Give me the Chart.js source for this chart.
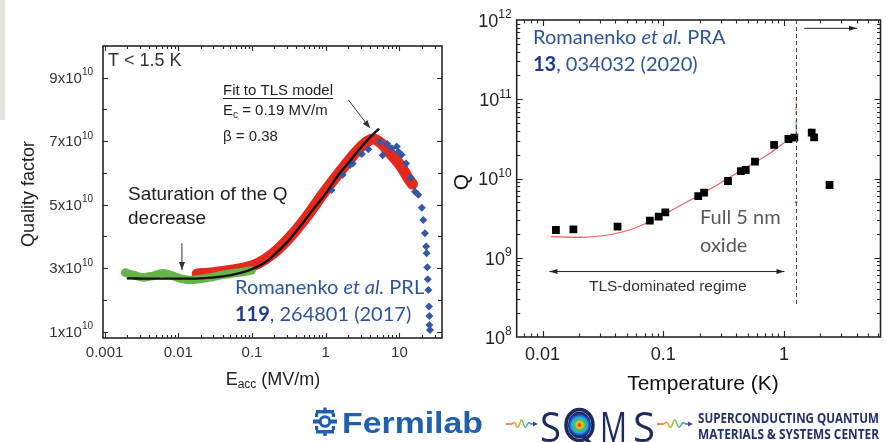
<!DOCTYPE html>
<html lang="en">
<head>
<meta charset="utf-8">
<title>Quality factor of SRF cavities</title>
<script src="https://cdn.jsdelivr.net/npm/chart.js@4.4.1/dist/chart.umd.min.js"></script>
<style>
  html, body { margin: 0; padding: 0; background: #ffffff; }
  body { width: 886px; height: 442px; position: relative; overflow: hidden; }
  canvas { position: absolute; display: block; }
  #sideBar { position: absolute; left: 0; top: 0; width: 5px; height: 120px; background: #e5e5de; }
  #fieldChart { left: 0; top: 0; }
  #tempChart { left: 450px; top: 0; }
  #logos { left: 0; top: 395px; }
</style>
</head>
<body>
<div id="sideBar"></div>
<canvas id="fieldChart" width="450" height="400"></canvas>
<canvas id="tempChart" width="436" height="400"></canvas>
<canvas id="logos" width="886" height="47"></canvas>
<script>
const SANS = '"Liberation Sans", Arial, sans-serif';
const HUMAN = 'Lato, "Open Sans", sans-serif';

// ---------------- Left panel: Q vs accelerating field ----------------
const fieldTickValues = [0.001, 0.01, 0.1, 1, 10];
const fieldTickLabels = ['0.001', '0.01', '0.1', '1', '10'];
const qLinTickValues = [1e10, 3e10, 5e10, 7e10, 9e10];
const qLinTickLabels = ['1x10', '3x10', '5x10', '7x10', '9x10'];
const qLinTickExp = '10';

// low-field (green) measurement band
const eGreen = [0.0019, 0.0025, 0.0034, 0.0045, 0.006, 0.0077, 0.0105, 0.0144, 0.02, 0.027, 0.038, 0.056, 0.075, 0.099];
const qGreen = [2.86e10, 2.78e10, 2.71e10, 2.76e10, 2.84e10, 2.79e10, 2.68e10, 2.63e10, 2.66e10, 2.71e10, 2.78e10, 2.84e10, 2.88e10, 2.93e10];

// CW (red) measurement band
const eRed = [0.018, 0.03, 0.05, 0.076, 0.116, 0.195, 0.33, 0.55, 0.93, 1.56, 2.6, 3.6, 4.4, 5.7, 7.5, 10.2, 13.2, 15];
const qRed = [2.82e10, 2.86e10, 2.93e10, 3.0e10, 3.13e10, 3.47e10, 3.99e10, 4.62e10, 5.36e10, 6.04e10, 6.67e10, 6.98e10, 7.07e10, 6.93e10, 6.62e10, 6.25e10, 5.83e10, 5.65e10];

// TLS model fit (black)
const eFit = [0.002, 0.005, 0.01, 0.02, 0.04, 0.07, 0.1, 0.15, 0.2, 0.3, 0.5, 0.7, 1.0, 1.5, 2.0, 3.0, 4.0, 5.3];
const qFit = [2.68e10, 2.67e10, 2.67e10, 2.68e10, 2.74e10, 2.85e10, 2.97e10, 3.18e10, 3.42e10, 3.82e10, 4.45e10, 4.9e10, 5.35e10, 5.95e10, 6.3e10, 6.8e10, 7.12e10, 7.4e10];

// high-field (blue diamond) measurement
const eBlue = [1.2, 1.7, 2.14, 2.32, 3.08, 3.78, 5.45, 5.93, 6.85, 7.87, 9.2, 9.67, 10.7, 12.3, 14.2, 16.3, 18.0, 20.1, 21.1, 22.2, 23.0, 23.4, 23.9, 24.2, 24.7, 25.2, 25.5, 25.5, 26.0];
const qBlue = [5.46e10, 5.94e10, 6.25e10, 6.3e10, 6.6e10, 6.75e10, 6.98e10, 6.56e10, 6.91e10, 6.78e10, 6.83e10, 6.67e10, 6.57e10, 6.3e10, 5.85e10, 5.41e10, 5.31e10, 4.9e10, 4.52e10, 4.1e10, 3.68e10, 3.47e10, 3.03e10, 2.65e10, 2.31e10, 1.79e10, 1.49e10, 1.21e10, 1.05e10];

// ---------------- Right panel: Q vs temperature ----------------
const tempTickValues = [0.01, 0.1, 1];
const tempTickLabels = ['0.01', '0.1', '1'];
const qLogTickValues = [1e8, 1e9, 1e10, 1e11, 1e12];
const qLogTickExps = ['8', '9', '10', '11', '12'];

const tMeas = [0.0129, 0.018, 0.0418, 0.0774, 0.0917, 0.104, 0.195, 0.218, 0.344, 0.44, 0.483, 0.576, 0.83, 1.09, 1.22, 1.70, 1.78, 2.39];
const qMeas = [2.24e9, 2.28e9, 2.47e9, 2.94e9, 3.3e9, 3.74e9, 6.0e9, 6.62e9, 9.3e9, 1.24e10, 1.28e10, 1.63e10, 2.65e10, 3.15e10, 3.27e10, 3.78e10, 3.31e10, 8.28e9];

const tTls = [0.0118, 0.02, 0.03, 0.05, 0.07, 0.1, 0.15, 0.2, 0.3, 0.4, 0.5, 0.6, 0.8, 1.0];
const qTls = [1.85e9, 1.81e9, 1.88e9, 2.19e9, 2.67e9, 3.47e9, 4.87e9, 6.2e9, 8.85e9, 1.16e10, 1.41e10, 1.66e10, 2.18e10, 2.83e10];

const tBoundary = 1.263;           // end of the TLS-dominated regime
const tOrangeA = [1.263, 1.263], qOrangeA = [1.07e11, 6.3e10];
const tGreenA = [1.263, 1.263], qGreenA = [5.5e10, 3.3e10];
const tOrangeB = [1.67, 1.67], qOrangeB = [4.3e10, 3.4e10];
const tBlueDot = [1.263], qBlueDot = [5.0e9];

// ---------------- helpers ----------------
const pairs = (xs, ys) => xs.map((x, i) => ({ x, y: ys[i] }));

function logTicks(min, max) {
  const out = [];
  for (let d = Math.floor(Math.log10(min)); d <= Math.ceil(Math.log10(max)); d++) {
    for (let k = 1; k <= 9; k++) {
      const v = k * Math.pow(10, d);
      if (v > min * 1.0001 && v < max / 1.0001) out.push({ v, major: k === 1 });
    }
  }
  return out;
}

function runs(ctx, parts, x, y, measureOnly) {
  let cx = x;
  for (const p of parts) {
    ctx.font = p.font;
    ctx.fillStyle = p.color || '#222';
    ctx.textAlign = 'left';
    ctx.textBaseline = 'middle';
    if (!measureOnly) ctx.fillText(p.text, cx, y + (p.dy || 0));
    cx += ctx.measureText(p.text).width;
  }
  return cx - x;
}

function arrowHead(ctx, x0, y0, x1, y1, len, half) {
  const ang = Math.atan2(y1 - y0, x1 - x0);
  ctx.beginPath();
  ctx.moveTo(x1, y1);
  ctx.lineTo(x1 - len * Math.cos(ang) + half * Math.sin(ang), y1 - len * Math.sin(ang) - half * Math.cos(ang));
  ctx.lineTo(x1 - len * Math.cos(ang) - half * Math.sin(ang), y1 - len * Math.sin(ang) + half * Math.cos(ang));
  ctx.closePath();
  ctx.fill();
}

function arrow(ctx, x0, y0, x1, y1, color, lw, len, half, both) {
  ctx.save();
  ctx.strokeStyle = color; ctx.fillStyle = color; ctx.lineWidth = lw;
  ctx.beginPath(); ctx.moveTo(x0, y0); ctx.lineTo(x1, y1); ctx.stroke();
  arrowHead(ctx, x0, y0, x1, y1, len, half);
  if (both) arrowHead(ctx, x1, y1, x0, y0, len, half);
  ctx.restore();
}

function drawFrame(chart, o) {
  const { ctx, chartArea: a } = chart;
  const xs = chart.scales.x, ys = chart.scales.y;
  ctx.save();
  ctx.strokeStyle = '#262626';
  ctx.lineWidth = 1.1;
  ctx.beginPath();
  for (const t of logTicks(xs.min, xs.max)) {
    const px = Math.round(xs.getPixelForValue(t.v)) + 0.5;
    const len = t.major ? o.xMajor : o.xMinor;
    ctx.moveTo(px, a.bottom); ctx.lineTo(px, a.bottom - len);
    ctx.moveTo(px, a.top); ctx.lineTo(px, a.top + len);
  }
  for (const t of o.yTicks) {
    const py = Math.round(ys.getPixelForValue(t.v)) + 0.5;
    const len = t.major ? o.yMajor : o.yMinor;
    ctx.moveTo(a.left, py); ctx.lineTo(a.left + len, py);
    ctx.moveTo(a.right, py); ctx.lineTo(a.right - len, py);
  }
  ctx.stroke();
  ctx.lineWidth = 1.6;
  ctx.strokeRect(a.left, a.top, a.right - a.left, a.bottom - a.top);
  ctx.restore();
}

// ---------------- left panel decorations ----------------
const leftDecor = {
  id: 'leftDecor',
  afterDraw(chart) {
    const { ctx, chartArea: a } = chart;
    const xs = chart.scales.x, ys = chart.scales.y;
    const yTicks = [];
    for (let k = 1; k <= 9; k++) yTicks.push({ v: k * 1e10, major: k % 2 === 1 });
    drawFrame(chart, { xMajor: 5, xMinor: 3, yMajor: 5, yMinor: 4, yTicks });

    ctx.save();
    // x tick labels
    ctx.fillStyle = '#333'; ctx.font = '15px ' + SANS;
    ctx.textAlign = 'center'; ctx.textBaseline = 'middle';
    fieldTickValues.forEach((v, i) => ctx.fillText(fieldTickLabels[i], xs.getPixelForValue(v), 353));
    // y tick labels with superscript exponent
    qLinTickValues.forEach((v, i) => {
      const py = ys.getPixelForValue(v) + 1;
      const parts = [
        { text: qLinTickLabels[i], font: '15px ' + SANS, color: '#333' },
        { text: qLinTickExp, font: '10px ' + SANS, color: '#333', dy: -6 }
      ];
      const w = runs(ctx, parts, 0, 0, true);
      runs(ctx, parts, a.left - 10 - w, py);
    });
    // axis titles
    ctx.save();
    ctx.translate(29, 194); ctx.rotate(-Math.PI / 2);
    ctx.font = '18px ' + SANS; ctx.fillStyle = '#222';
    ctx.textAlign = 'center'; ctx.textBaseline = 'middle';
    ctx.fillText('Quality factor', 0, 0);
    ctx.restore();
    const xt = [
      { text: 'E', font: '18px ' + SANS, color: '#222' },
      { text: 'acc', font: '12px ' + SANS, color: '#222', dy: 5 },
      { text: ' (MV/m)', font: '18px ' + SANS, color: '#222' }
    ];
    const xtw = runs(ctx, xt, 0, 0, true);
    runs(ctx, xt, 273 - xtw / 2, 380);

    // annotations
    runs(ctx, [{ text: 'T < 1.5 K', font: '18px ' + SANS, color: '#333' }], 108, 61);
    const fw = runs(ctx, [{ text: 'Fit to TLS model', font: '15px ' + SANS, color: '#222' }], 223, 91);
    ctx.strokeStyle = '#222'; ctx.lineWidth = 1;
    ctx.beginPath(); ctx.moveTo(223, 98.5); ctx.lineTo(223 + fw, 98.5); ctx.stroke();
    runs(ctx, [
      { text: 'E', font: '15px ' + SANS, color: '#222' },
      { text: 'c', font: '10px ' + SANS, color: '#222', dy: 4 },
      { text: ' = 0.19 MV/m', font: '15px ' + SANS, color: '#222' }
    ], 223, 111);
    runs(ctx, [{ text: 'β = 0.38', font: '15px ' + SANS, color: '#222' }], 223, 137);
    arrow(ctx, xs.getPixelForValue(2.03), ys.getPixelForValue(8.3e10),
          xs.getPixelForValue(3.99), ys.getPixelForValue(7.41e10), '#333', 1, 8, 3, false);

    runs(ctx, [{ text: 'Saturation of the Q', font: '19px ' + SANS, color: '#222' }], 128, 195);
    runs(ctx, [{ text: 'decrease', font: '19px ' + SANS, color: '#222' }], 128, 219);
    arrow(ctx, xs.getPixelForValue(0.0112), ys.getPixelForValue(3.79e10),
          xs.getPixelForValue(0.0112), ys.getPixelForValue(2.94e10), '#333', 1, 8, 3, false);

    runs(ctx, [
      { text: 'Romanenko ', font: '20px ' + HUMAN, color: '#2e5597' },
      { text: 'et al.', font: 'italic 20px ' + HUMAN, color: '#2e5597' },
      { text: ' PRL', font: '20px ' + HUMAN, color: '#2e5597' }
    ], 235, 288);
    runs(ctx, [
      { text: '119', font: 'bold 20px ' + HUMAN, color: '#1f3c86' },
      { text: ', 264801 (2017)', font: '20px ' + HUMAN, color: '#2e5597' }
    ], 235, 315);
    ctx.restore();
  }
};

// ---------------- right panel decorations ----------------
const rightDecor = {
  id: 'rightDecor',
  afterDraw(chart) {
    const { ctx, chartArea: a } = chart;
    const xs = chart.scales.x, ys = chart.scales.y;
    drawFrame(chart, { xMajor: 6, xMinor: 3.5, yMajor: 6, yMinor: 3.5, yTicks: logTicks(ys.min, ys.max) });

    ctx.save();
    // dashed regime boundary
    const bx = Math.round(xs.getPixelForValue(tBoundary)) + 0.5;
    ctx.strokeStyle = '#444'; ctx.lineWidth = 1; ctx.setLineDash([4, 3]);
    ctx.beginPath(); ctx.moveTo(bx, a.top); ctx.lineTo(bx, ys.getPixelForValue(2.54e8)); ctx.stroke();
    ctx.setLineDash([]);
    // arrow into the high-temperature regime
    arrow(ctx, xs.getPixelForValue(1.476), ys.getPixelForValue(7.85e11),
          xs.getPixelForValue(4.03), ys.getPixelForValue(7.85e11), '#222', 1, 8, 2.5, false);
    // TLS-dominated regime span
    const yA = ys.getPixelForValue(6.7e8);
    arrow(ctx, xs.getPixelForValue(0.0114), yA, xs.getPixelForValue(1.01), yA, '#222', 1, 8, 2.5, true);
    ctx.font = '15.5px ' + SANS; ctx.fillStyle = '#333';
    ctx.textAlign = 'center'; ctx.textBaseline = 'middle';
    ctx.fillText('TLS-dominated regime', xs.getPixelForValue(0.109), ys.getPixelForValue(4.37e8));

    // x tick labels
    ctx.font = '18px ' + SANS; ctx.fillStyle = '#222';
    tempTickValues.forEach((v, i) => ctx.fillText(tempTickLabels[i], xs.getPixelForValue(v), 355));
    // y tick labels 10^n
    qLogTickValues.forEach((v, i) => {
      const py = ys.getPixelForValue(v) + 2;
      const parts = [
        { text: '10', font: '18px ' + SANS, color: '#222' },
        { text: qLogTickExps[i], font: '12px ' + SANS, color: '#222', dy: -7 }
      ];
      const w = runs(ctx, parts, 0, 0, true);
      runs(ctx, parts, a.left - 5 - w, py);
    });
    // axis titles
    ctx.save();
    ctx.translate(12, 182); ctx.rotate(-Math.PI / 2);
    ctx.font = '21px ' + SANS; ctx.fillStyle = '#111';
    ctx.textAlign = 'center'; ctx.textBaseline = 'middle';
    ctx.fillText('Q', 0, 0);
    ctx.restore();
    ctx.font = '21px ' + SANS; ctx.fillStyle = '#111';
    ctx.textAlign = 'center'; ctx.textBaseline = 'middle';
    ctx.fillText('Temperature (K)', 253, 384);

    // annotations
    runs(ctx, [
      { text: 'Romanenko ', font: '20px ' + HUMAN, color: '#2e5597' },
      { text: 'et al.', font: 'italic 20px ' + HUMAN, color: '#2e5597' },
      { text: ' PRA', font: '20px ' + HUMAN, color: '#2e5597' }
    ], 83, 38);
    runs(ctx, [
      { text: '13', font: 'bold 20px ' + HUMAN, color: '#1f3c86' },
      { text: ', 034032 (2020)', font: '20px ' + HUMAN, color: '#2e5597' }
    ], 83, 65);
    runs(ctx, [{ text: 'Full 5 nm', font: '20px ' + HUMAN, color: '#595959' }], 250, 218);
    runs(ctx, [{ text: 'oxide', font: '20px ' + HUMAN, color: '#595959' }], 250, 246);
    ctx.restore();
  }
};

const common = {
  responsive: false, animation: false, events: [],
  plugins: { legend: { display: false }, tooltip: { enabled: false } }
};

new Chart(document.getElementById('fieldChart'), {
  type: 'scatter',
  data: {
    datasets: [
      { label: 'TLS fit', data: pairs(eFit, qFit), showLine: true, borderColor: '#111111', borderWidth: 2.4,
        pointRadius: 0, cubicInterpolationMode: 'monotone', order: 0 },
      { label: 'High field', data: pairs(eBlue, qBlue), pointStyle: 'rectRot', pointRadius: 4,
        backgroundColor: '#3557a8', pointBackgroundColor: '#3557a8', pointBorderWidth: 0, order: 1 },
      { label: 'Low field', data: pairs(eGreen, qGreen), showLine: true, borderColor: '#66b54a', borderWidth: 8.5,
        pointRadius: 0, cubicInterpolationMode: 'monotone', borderCapStyle: 'round', order: 2 },
      { label: 'CW', data: pairs(eRed, qRed), showLine: true, borderColor: '#e5281d', borderWidth: 11,
        pointRadius: 0, cubicInterpolationMode: 'monotone', borderCapStyle: 'round', order: 3 }
    ]
  },
  options: Object.assign({}, common, {
    layout: { padding: { left: 103, top: 46, right: 8, bottom: 62 } },
    scales: {
      x: { type: 'logarithmic', min: 0.000951, max: 37.8, display: false, bounds: 'data' },
      y: { type: 'linear', min: 0.8e10, max: 10e10, display: false, bounds: 'data' }
    }
  }),
  plugins: [leftDecor]
});

new Chart(document.getElementById('tempChart'), {
  type: 'scatter',
  data: {
    datasets: [
      { label: 'Measured Q', data: pairs(tMeas, qMeas), pointStyle: 'rect', pointRadius: 5.5,
        backgroundColor: '#000', pointBackgroundColor: '#000', pointBorderWidth: 0, order: 0 },
      { label: 'TLS fit', data: pairs(tTls, qTls), showLine: true, borderColor: '#f05a5a', borderWidth: 1.2,
        pointRadius: 0, cubicInterpolationMode: 'monotone', order: 1 },
      { label: 'a', data: pairs(tOrangeA, qOrangeA), showLine: true, borderColor: '#f0a050', borderWidth: 1.5,
        borderDash: [3, 2], pointRadius: 0, order: 2 },
      { label: 'b', data: pairs(tGreenA, qGreenA), showLine: true, borderColor: '#44c044', borderWidth: 1.2,
        pointRadius: 0, order: 2 },
      { label: 'c', data: pairs(tOrangeB, qOrangeB), showLine: true, borderColor: '#f0a050', borderWidth: 2,
        pointRadius: 0, order: 2 },
      { label: 'd', data: pairs(tBlueDot, qBlueDot), pointRadius: 1.3, backgroundColor: '#8080ff',
        pointBackgroundColor: '#8080ff', pointBorderWidth: 0, order: 2 }
    ]
  },
  options: Object.assign({}, common, {
    layout: { padding: { left: 66.7, top: 20, right: 0.5, bottom: 63 } },
    scales: {
      x: { type: 'logarithmic', min: 0.0061, max: 6.32, display: false, bounds: 'data' },
      y: { type: 'logarithmic', min: 1e8, max: 1e12, display: false, bounds: 'data' }
    }
  }),
  plugins: [rightDecor]
});

// ---------------- institution logos ----------------
(function drawLogos() {
  const c = document.getElementById('logos');
  const ctx = c.getContext('2d');
  const FB = '#1f5faf';
  // Fermilab mark
  ctx.fillStyle = FB; ctx.strokeStyle = FB;
  const cx = 325, cy = 26.5;
  ctx.lineWidth = 3;
  ctx.beginPath(); ctx.arc(cx, cy, 4.8, 0, Math.PI * 2); ctx.stroke();
  ctx.fillRect(313, cy - 2, 6.5, 4);
  ctx.fillRect(330.5, cy - 2, 6.5, 4);
  ctx.fillRect(316, 15, 18, 3.5);
  ctx.fillRect(316, 35, 18, 3.5);
  ctx.fillRect(323.3, 12.5, 3.4, 5);
  ctx.fillRect(323.3, 36, 3.4, 5);
  ctx.fillRect(315, 18, 3.2, 4);
  ctx.fillRect(331.8, 18, 3.2, 4);
  ctx.fillRect(315, 31, 3.2, 4);
  ctx.fillRect(331.8, 31, 3.2, 4);
  // Fermilab wordmark
  ctx.font = 'bold 30px ' + SANS;
  ctx.textBaseline = 'alphabetic'; ctx.textAlign = 'left';
  const fwN = ctx.measureText('Fermilab').width;
  ctx.save(); ctx.translate(342, 37.5); ctx.scale(141 / fwN, 1);
  ctx.fillText('Fermilab', 0, 0); ctx.restore();

  // rainbow squiggles
  function squiggle(x0, x1, y) {
    const g = ctx.createLinearGradient(x0, 0, x1, 0);
    g.addColorStop(0, '#e8412c'); g.addColorStop(0.3, '#f5a623'); g.addColorStop(0.5, '#8cc63f');
    g.addColorStop(0.72, '#2a9df4'); g.addColorStop(1, '#5b3fa0');
    ctx.save();
    ctx.strokeStyle = g; ctx.fillStyle = '#4a3f9a'; ctx.lineWidth = 1.5;
    ctx.beginPath();
    const n = 80, span = x1 - x0 - 4;
    for (let i = 0; i <= n; i++) {
      const t = i / n;
      const x = x0 + t * span;
      const env = t < 0.2 ? 0 : Math.sin(Math.PI * (t - 0.2) / 0.7) * (t < 0.9 ? 1 : 0);
      const yy = y - 4 * env * Math.sin((t - 0.2) * 7 * Math.PI);
      if (i) ctx.lineTo(x, yy); else ctx.moveTo(x, yy);
    }
    ctx.stroke();
    ctx.beginPath(); ctx.moveTo(x1, y); ctx.lineTo(x1 - 5, y - 2.5); ctx.lineTo(x1 - 5, y + 2.5); ctx.closePath(); ctx.fill();
    ctx.restore();
  }
  squiggle(506, 538, 29);
  squiggle(657, 693, 29);

  // SQMS lettering
  const NAVY = '#1c2a5e';
  ctx.fillStyle = NAVY;
  ctx.font = '42px "Open Sans", ' + SANS;
  ctx.textBaseline = 'alphabetic';
  ctx.fillText('S', 540, 47, 21);
  ctx.fillText('M', 600, 47, 27);
  ctx.fillText('S', 633, 47, 22);
  // Q with target rings
  ctx.lineWidth = 3.6; ctx.strokeStyle = NAVY;
  ctx.beginPath(); ctx.ellipse(579.5, 30, 13.5, 15.5, 0, 0, Math.PI * 2); ctx.stroke();
  const rg = ctx.createRadialGradient(579.5, 30, 0, 579.5, 30, 12);
  rg.addColorStop(0, '#e02020'); rg.addColorStop(0.25, '#f8c020'); rg.addColorStop(0.45, '#40c060');
  rg.addColorStop(0.65, '#20b0e0'); rg.addColorStop(0.85, '#2040c0'); rg.addColorStop(1, '#1c2a5e');
  ctx.fillStyle = rg;
  ctx.beginPath(); ctx.ellipse(579.5, 30, 11.5, 13.5, 0, 0, Math.PI * 2); ctx.fill();
  ctx.strokeStyle = NAVY; ctx.lineWidth = 3.6;
  ctx.beginPath(); ctx.moveTo(583, 41); ctx.lineTo(592, 50); ctx.stroke();

  // center name
  ctx.fillStyle = '#22306b';
  ctx.font = 'bold 14px "Open Sans", ' + SANS;
  ctx.fillText('SUPERCONDUCTING QUANTUM', 698, 28, 181);
  ctx.fillText('MATERIALS & SYSTEMS CENTER', 698, 43.5, 181);
})();
</script>
</body>
</html>
